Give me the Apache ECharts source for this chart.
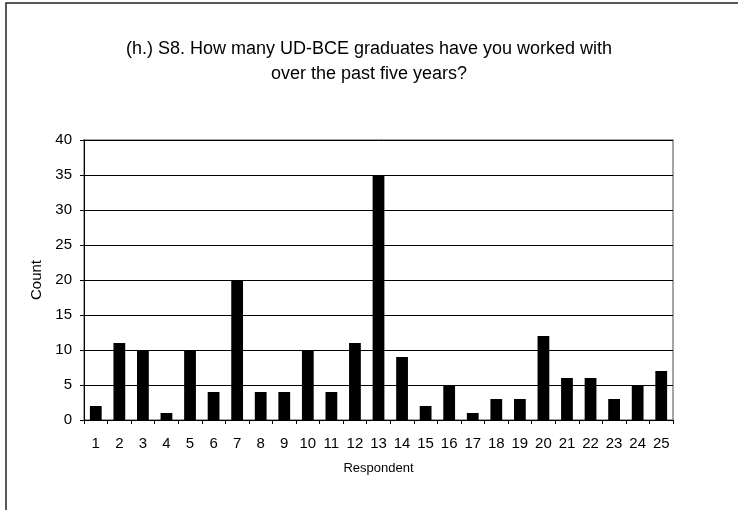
<!DOCTYPE html>
<html>
<head>
<meta charset="utf-8">
<script src="https://cdn.jsdelivr.net/npm/echarts@6/dist/echarts.min.js"></script>
<style>
  html, body { margin: 0; padding: 0; background: #fff; }
  #chart { width: 738px; height: 510px; }
</style>
</head>
<body>
<div id="chart"></div>
<script>
// Respondent numbers along the x axis
const respondents = ['1','2','3','4','5','6','7','8','9','10','11','12','13','14','15','16','17','18','19','20','21','22','23','24','25'];
// Number of UD-BCE graduates each respondent reported working with
const counts = [2, 11, 10, 1, 10, 4, 20, 4, 4, 10, 4, 11, 35, 9, 2, 5, 1, 3, 3, 12, 6, 6, 3, 5, 7];
// Count axis range
const countMin = 0;
const countMax = 40;
const countStep = 5;

const chart = echarts.init(document.getElementById('chart'), null, { renderer: 'canvas' });
const font = 'Liberation Sans, Arial, sans-serif';

chart.setOption({
  animation: false,
  backgroundColor: '#fff',
  title: {
    text: '(h.) S8. How many UD-BCE graduates have you worked with\nover the past five years?',
    left: 'center',
    top: 32,
    textStyle: {
      fontFamily: font,
      fontSize: 18,
      fontWeight: 'normal',
      color: '#000',
      lineHeight: 25
    }
  },
  graphic: [{
    type: 'rect',
    shape: { x: 6, y: 3, width: 760, height: 540 },
    style: { fill: 'none', stroke: '#222', lineWidth: 1.5 },
    silent: true,
    z: -1
  }],
  grid: {
    left: 84,
    right: 65,
    top: 140,
    bottom: 90,
    show: true,
    borderColor: '#888',
    borderWidth: 1.5,
    backgroundColor: 'transparent'
  },
  xAxis: {
    type: 'category',
    data: respondents,
    name: 'Respondent',
    nameLocation: 'middle',
    nameGap: 42,
    nameTextStyle: { fontFamily: font, fontSize: 13, color: '#000' },
    axisLine: { lineStyle: { color: '#000', width: 1 } },
    axisTick: { show: true, alignWithLabel: false, interval: 0, length: 4, lineStyle: { color: '#000' } },
    axisLabel: { interval: 0, margin: 16, fontFamily: font, fontSize: 15, color: '#000' },
    splitLine: { show: false }
  },
  yAxis: {
    type: 'value',
    min: countMin,
    max: countMax,
    interval: countStep,
    name: 'Count',
    nameLocation: 'middle',
    nameGap: 38,
    nameTextStyle: { fontFamily: font, fontSize: 15, color: '#000' },
    axisLine: { show: true, lineStyle: { color: '#000', width: 1 } },
    axisTick: { show: true, length: 4, lineStyle: { color: '#000' } },
    axisLabel: { margin: 12, fontFamily: font, fontSize: 15, color: '#000' },
    splitLine: { show: true, lineStyle: { color: '#000', width: 1 } }
  },
  series: [{
    type: 'bar',
    data: counts,
    barWidth: '50%',
    itemStyle: { color: '#000' },
    silent: true
  }]
});
</script>
</body>
</html>
